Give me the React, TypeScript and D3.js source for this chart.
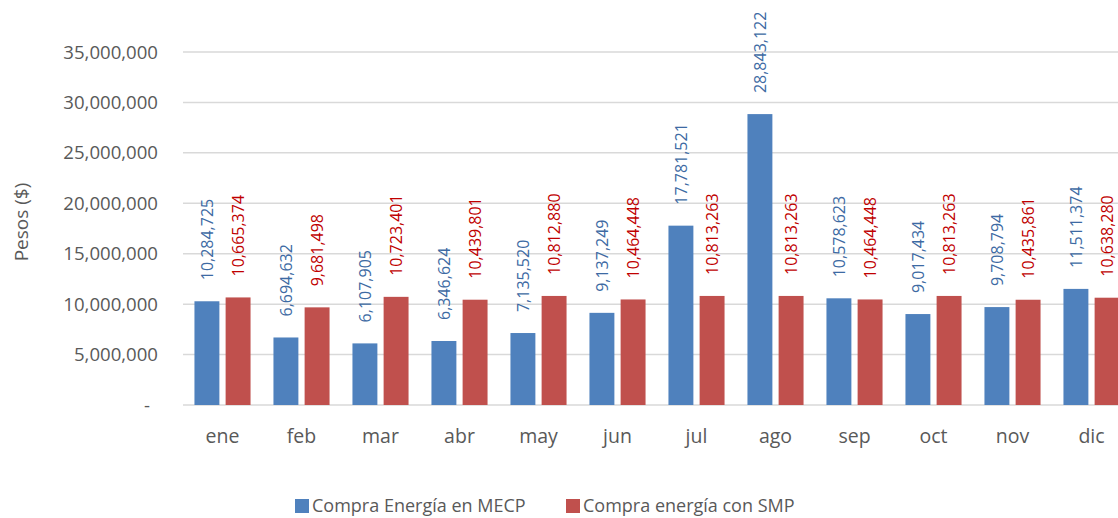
import React from "react";
import * as d3 from "d3";

// Monthly energy purchases (pesos)
const months = ["ene", "feb", "mar", "abr", "may", "jun", "jul", "ago", "sep", "oct", "nov", "dic"];
const compraMECP = [10284725, 6694632, 6107905, 6346624, 7135520, 9137249, 17781521, 28843122, 10578623, 9017434, 9708794, 11511374];
const compraSMP = [10665374, 9681498, 10723401, 10439801, 10812880, 10464448, 10813263, 10813263, 10464448, 10813263, 10435861, 10638280];
const yTicks = [0, 5000000, 10000000, 15000000, 20000000, 25000000, 30000000, 35000000];
const seriesNames = ["Compra Energía en MECP", "Compra energía con SMP"];

const W = 1118;
const H = 518;
const FONT = "'Open Sans', 'Liberation Sans', sans-serif";
const BAR_COLORS = ["#4f81bd", "#c0504d"];
const LABEL_COLORS = ["#3d6aa3", "#c00000"];
const AXIS_TEXT = "#595959";

export default function App() {
  const plotLeft = 183;
  const plotRight = 183 + 79 * 12;
  const y = d3.scaleLinear().domain([0, 35000000]).range([405, 52]);
  const x = d3.scaleBand<string>().domain(months).range([plotLeft, plotRight]).paddingInner(0.29).paddingOuter(0.145);
  const sub = d3.scaleBand<number>().domain([0, 1]).range([0, x.bandwidth()]).paddingInner(0.2);
  const fmt = d3.format(",");
  const series = [compraMECP, compraSMP];

  return (
    <svg
      width={W}
      height={H}
      style={{ position: "absolute", left: 0, top: 0, display: "block", background: "#fff" }}
      fontFamily={FONT}
    >
      {/* gridlines */}
      {yTicks.map((t) => (
        <line key={t} x1={plotLeft} x2={plotRight} y1={y(t)} y2={y(t)} stroke="#d9d9d9" strokeWidth={1.5} />
      ))}
      {/* y tick labels */}
      {yTicks.map((t) => (
        <text
          key={"l" + t}
          x={t === 0 ? 150 : 158}
          y={y(t)}
          dy="0.35em"
          textAnchor="end"
          fontSize={18.6}
          fill={AXIS_TEXT}
        >
          {t === 0 ? "-" : fmt(t)}
        </text>
      ))}
      {/* y axis title */}
      <text
        transform={`translate(28,222) rotate(-90)`}
        textAnchor="middle"
        fontSize={19}
        fill={AXIS_TEXT}
      >
        Pesos ($)
      </text>
      {/* bars */}
      {months.map((m, i) => (
        <g key={m} transform={`translate(${x(m)},0)`}>
          {series.map((s, k) => (
            <rect
              key={k}
              x={sub(k)}
              y={y(s[i])}
              width={sub.bandwidth()}
              height={y(0) - y(s[i])}
              fill={BAR_COLORS[k]}
            />
          ))}
          {series.map((s, k) => {
            const cx = (sub(k) as number) + sub.bandwidth() / 2;
            const ty = y(s[i]) - 21;
            return (
              <text
                key={"t" + k}
                transform={`translate(${cx},${ty}) rotate(-90)`}
                dy="0.35em"
                textAnchor="start"
                fontSize={16}
                fill={LABEL_COLORS[k]}
              >
                {fmt(s[i])}
              </text>
            );
          })}
          <text x={x.bandwidth() / 2} y={436.5} dy="0.35em" textAnchor="middle" fontSize={19.5} fill={AXIS_TEXT}>
            {m}
          </text>
        </g>
      ))}
      {/* legend */}
      <g>
        <rect x={295} y={499} width={14} height={14} fill={BAR_COLORS[0]} />
        <text x={312} y={506} dy="0.35em" fontSize={18} fill={AXIS_TEXT}>
          {seriesNames[0]}
        </text>
        <rect x={566} y={499} width={14} height={14} fill={BAR_COLORS[1]} />
        <text x={583} y={506} dy="0.35em" fontSize={18} fill={AXIS_TEXT}>
          {seriesNames[1]}
        </text>
      </g>
    </svg>
  );
}
